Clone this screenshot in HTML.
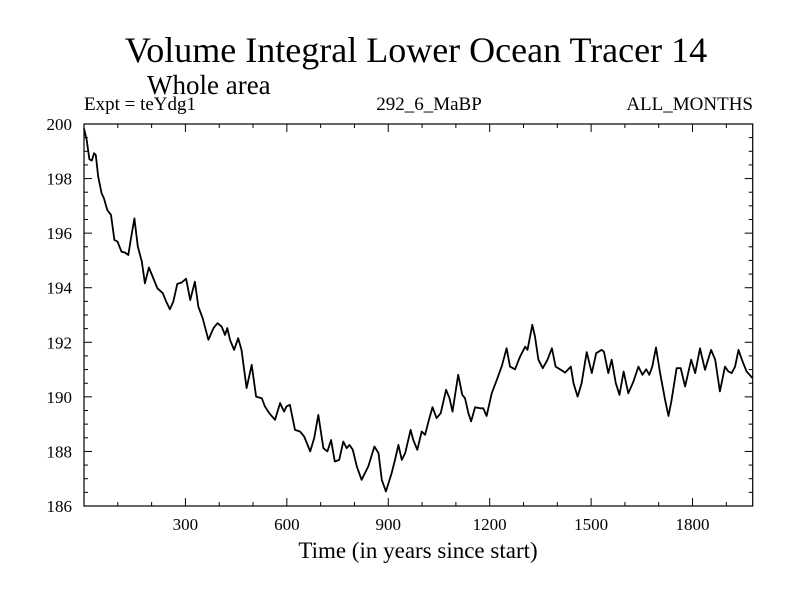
<!DOCTYPE html>
<html><head><meta charset="utf-8"><style>
html,body{margin:0;padding:0;background:#fff;}
svg{display:block;font-family:"Liberation Serif",serif;}
</style></head><body>
<svg id="chart" width="800" height="600" viewBox="0 0 800 600">
<rect width="800" height="600" fill="#fff"/>
<text x="416" y="62" font-size="36" text-anchor="middle">Volume Integral Lower Ocean Tracer 14</text>
<text x="147" y="94" font-size="27">Whole area</text>
<text x="84" y="110" font-size="19">Expt = teYdg1</text>
<text x="429" y="110" font-size="19" text-anchor="middle">292_6_MaBP</text>
<text x="753" y="110" font-size="19" text-anchor="end">ALL_MONTHS</text>
<text x="418" y="558" font-size="23" text-anchor="middle">Time (in years since start)</text>
<g id="axes"></g>
<g id="series"></g>
</svg>
<script>
const years=[0,8,16,23,30,35,42,52,59,69,80,90,99,111,121,131,138,149,159,171,180,192,203,217,233,243,254,264,276,289,302,314,328,338,351,368,383,395,407,417,424,432,444,456,466,481,496,509,526,535,548,565,580,592,599,609,624,639,651,669,681,693,708,720,731,742,755,767,777,785,795,807,821,841,859,871,881,893,910,920,930,940,950,966,974,986,999,1009,1019,1031,1043,1055,1071,1081,1090,1107,1119,1127,1137,1145,1157,1172,1181,1191,1206,1221,1236,1250,1260,1275,1290,1305,1312,1326,1334,1344,1357,1371,1384,1395,1408,1423,1440,1448,1460,1472,1487,1502,1515,1531,1538,1551,1561,1573,1584,1596,1610,1625,1640,1652,1663,1672,1681,1692,1704,1719,1729,1738,1753,1765,1778,1796,1808,1822,1837,1855,1867,1881,1896,1906,1916,1926,1936,1946,1960,1978];
const values=[199.84,199.41,198.71,198.66,198.93,198.86,198.07,197.46,197.28,196.85,196.67,195.75,195.69,195.32,195.29,195.20,195.75,196.54,195.51,194.96,194.16,194.74,194.41,193.98,193.80,193.49,193.21,193.49,194.14,194.19,194.33,193.55,194.22,193.31,192.88,192.09,192.52,192.70,192.58,192.27,192.52,192.09,191.72,192.15,191.72,190.32,191.17,190.01,189.95,189.65,189.40,189.16,189.77,189.46,189.65,189.71,188.79,188.73,188.55,188.00,188.49,189.34,188.12,188.00,188.42,187.63,187.69,188.36,188.12,188.24,188.06,187.45,186.96,187.45,188.18,187.94,186.96,186.53,187.20,187.69,188.24,187.69,187.94,188.79,188.42,188.06,188.73,188.61,189.10,189.62,189.22,189.40,190.26,189.95,189.46,190.81,190.07,189.95,189.40,189.10,189.62,189.58,189.58,189.30,190.13,190.62,191.14,191.78,191.11,191.01,191.48,191.84,191.72,192.64,192.21,191.36,191.05,191.36,191.78,191.11,191.01,190.89,191.11,190.50,190.01,190.50,191.64,190.87,191.60,191.72,191.66,190.87,191.36,190.50,190.07,190.93,190.13,190.56,191.11,190.81,191.01,190.81,191.11,191.81,190.87,189.89,189.30,189.89,191.05,191.05,190.38,191.36,190.87,191.78,190.99,191.72,191.36,190.20,191.11,190.93,190.87,191.11,191.72,191.36,190.93,190.68];
const xTickLabels=[300,600,900,1200,1500,1800];
const yTickLabels=[186,188,190,192,194,196,198,200];
const NS="http://www.w3.org/2000/svg";
const L=84,R=752.7,T=124,B=506,XMIN=0,XMAX=1978,YMIN=186,YMAX=200;
function sx(v){return L+(v-XMIN)/(XMAX-XMIN)*(R-L);}
function sy(v){return B-(v-YMIN)/(YMAX-YMIN)*(B-T);}
const axes=document.getElementById('axes');
function mk(tag,attrs,parent){const e=document.createElementNS(NS,tag);for(const k in attrs)e.setAttribute(k,attrs[k]);parent.appendChild(e);return e;}
const frame=mk('rect',{x:L,y:T,width:R-L,height:B-T,fill:'none',stroke:'#000','stroke-width':1.2},axes);


for(let v=100;v<XMAX;v+=100){
  const major=v%300===0, len=major?8:4, x=sx(v);
  const t1=mk('line',{x1:x,x2:x,y1:B,y2:B-len,stroke:'#000','stroke-width':1},axes);
  
  
  const t2=mk('line',{x1:x,x2:x,y1:T,y2:T+len,stroke:'#000','stroke-width':1},axes);
  
  
}
xTickLabels.forEach(v=>{
  const t=mk('text',{x:sx(v),y:B+24,'font-size':17,'text-anchor':'middle'},axes);
  t.textContent=v;
  
  
});
for(let v=YMIN+0.5;v<YMAX;v+=0.5){
  const major=Math.abs(v-Math.round(v/2)*2)<1e-6, len=major?8:4, y=sy(v);
  const t1=mk('line',{x1:L,x2:L+len,y1:y,y2:y,stroke:'#000','stroke-width':1},axes);
  
  
  const t2=mk('line',{x1:R,x2:R-len,y1:y,y2:y,stroke:'#000','stroke-width':1},axes);
  
  
}
yTickLabels.forEach(v=>{
  const t=mk('text',{x:L-12,y:sy(v)+6,'font-size':17,'text-anchor':'end'},axes);
  t.textContent=v;
  
  
});
const d=years.map((yr,i)=>(i?'L':'M')+sx(yr).toFixed(1)+','+sy(values[i]).toFixed(1)).join(' ');
const line=mk('path',{d:d,fill:'none',stroke:'#000','stroke-width':1.8,'stroke-linejoin':'round'},document.getElementById('series'));


</script>
</body></html>
